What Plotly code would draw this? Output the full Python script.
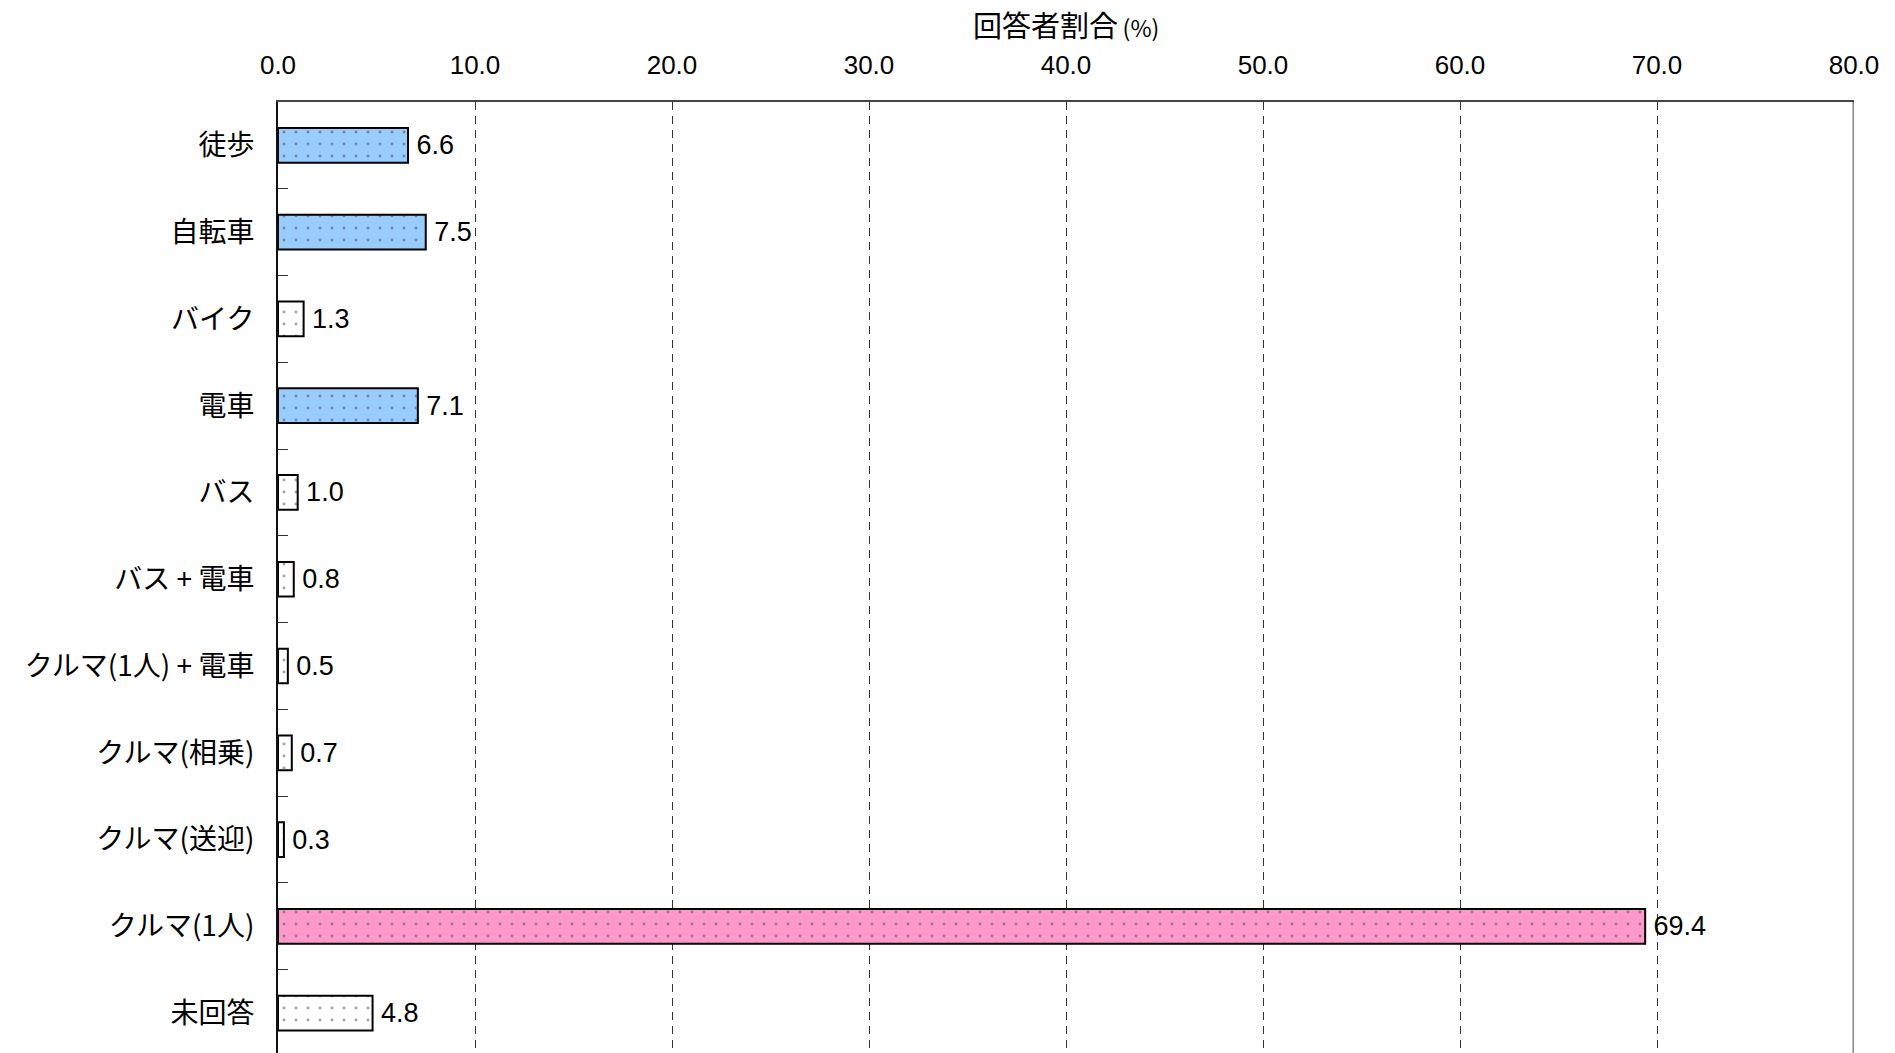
import plotly.graph_objects as go

# Commute mode survey: share of respondents by mode (%)
categories = ["徒歩", "自転車", "バイク", "電車", "バス", "バス + 電車",
              "クルマ(1人) + 電車", "クルマ(相乗)", "クルマ(送迎)",
              "クルマ(1人)", "未回答"]
shares = [6.6, 7.5, 1.3, 7.1, 1.0, 0.8, 0.5, 0.7, 0.3, 69.4, 4.8]
fill_colors = ["#99CCFF", "#99CCFF", "#FFFFFF", "#99CCFF", "#FFFFFF", "#FFFFFF",
               "#FFFFFF", "#FFFFFF", "#FFFFFF", "#FF99CC", "#FFFFFF"]
x_ticks = [0, 10, 20, 30, 40, 50, 60, 70, 80]
axis_title = "回答者割合<span style='font-size:23px'>\u2009(%)</span>"

FONT = "Liberation Sans, Arial, Noto Sans CJK JP, sans-serif"
JP_FONT = "Noto Sans CJK JP, Liberation Sans, sans-serif"

fig = go.Figure(
    go.Bar(
        x=shares,
        y=categories,
        orientation="h",
        width=0.4,
        marker=dict(
            color=fill_colors,
            line=dict(color="#000000", width=2),
            pattern=dict(shape=".", fgcolor="#000000", size=12, solidity=0.045),
        ),
        texttemplate="\u2009%{x:.1f}",
        textposition="outside",
        textfont=dict(family=FONT, size=27, color="#000000"),
        cliponaxis=False,
        hoverinfo="skip",
    )
)

fig.update_layout(
    width=1895,
    height=1053,
    margin=dict(l=278, r=41, t=102, b=0),
    paper_bgcolor="#FFFFFF",
    plot_bgcolor="#FFFFFF",
    showlegend=False,
    font=dict(family=FONT, color="#000000"),
    xaxis=dict(
        side="top",
        range=[0, 80],
        tickvals=x_ticks,
        ticktext=[f"{v:.1f}" for v in x_ticks],
        tickfont=dict(family=FONT, size=26, color="#000000"),
        ticks="",
        ticklabelstandoff=16,
        showgrid=True,
        gridcolor="#333333",
        gridwidth=1,
        griddash="8px,6px",
        showline=True,
        linecolor="#444444",
        linewidth=2,
        zeroline=False,
        fixedrange=True,
    ),
    yaxis=dict(
        categoryorder="array",
        categoryarray=categories,
        range=[10.46, -0.5],
        tickfont=dict(family=JP_FONT, size=28, color="#000000"),
        ticks="inside",
        tickson="boundaries",
        ticklen=10,
        tickwidth=1,
        tickcolor="#333333",
        ticklabelstandoff=16,
        showgrid=False,
        showline=True,
        linecolor="#111111",
        linewidth=2,
        zeroline=False,
        fixedrange=True,
    ),
)

# right frame edge of the plot area
fig.add_shape(type="line", xref="x", yref="paper", x0=80, x1=80, y0=0, y1=1,
              line=dict(color="#888888", width=3))

# axis title above the top tick labels
fig.add_annotation(text=axis_title, xref="paper", yref="paper", x=0.5, y=1,
                   yanchor="middle", yshift=78, showarrow=False,
                   font=dict(family=JP_FONT, size=29, color="#000000"))

fig.write_html("out.html")
